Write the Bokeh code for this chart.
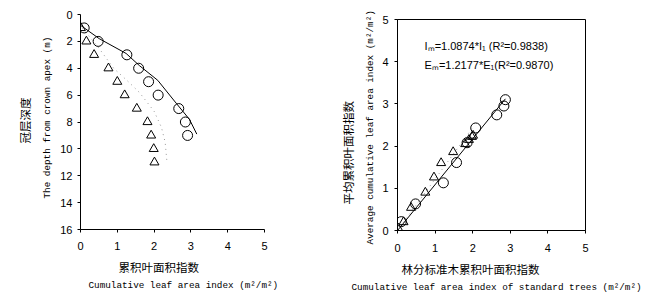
from bokeh.plotting import figure
from bokeh.layouts import row, column
from bokeh.models import Range1d, Label, FixedTicker, Title
from bokeh.embed import file_html
from bokeh.resources import INLINE

# ---- data ----
# left panel: depth from crown apex vs cumulative LAI
depth_circ = [1, 2, 3, 4, 5, 6, 7, 8, 9]
lai_circ = [0.10, 0.48, 1.26, 1.58, 1.85, 2.11, 2.67, 2.85, 2.91]
depth_tri = [1, 2, 3, 4, 5, 6, 7, 8, 9, 10, 11]
lai_tri = [0.01, 0.16, 0.37, 0.76, 1.00, 1.20, 1.53, 1.82, 1.92, 1.99, 2.01]
fit_solid_x = [0.0, 0.51, 1.24, 1.60, 2.10, 2.60, 2.96, 3.16]
fit_solid_y = [0.8, 1.8, 2.9, 3.8, 4.9, 6.6, 7.8, 8.9]
fit_dot_x = [0.05, 0.50, 0.90, 1.30, 1.60, 2.00, 2.20, 2.30, 2.35]
fit_dot_y = [1.0, 2.5, 4.0, 5.0, 5.8, 7.2, 8.4, 9.5, 11.0]

# right panel: stand average vs standard trees
std_circ = [0.10, 0.48, 1.22, 1.57, 1.85, 2.08, 2.64, 2.83, 2.87]
avg_circ = [0.21, 0.63, 1.13, 1.61, 2.08, 2.43, 2.74, 2.95, 3.10]
std_tri = [0.02, 0.16, 0.36, 0.74, 0.97, 1.16, 1.48, 1.80, 1.90, 1.98, 2.01]
avg_tri = [0.05, 0.20, 0.54, 0.90, 1.26, 1.60, 1.86, 2.05, 2.15, 2.22, 2.25]
reg_i_x = [0.0, 2.87]
reg_i_y = [0.0, 3.12]
reg_e_x = [0.0, 2.0]
reg_e_y = [0.0, 2.44]

x_ticks = [0, 1, 2, 3, 4, 5]
depth_ticks = [0, 2, 4, 6, 8, 10, 12, 14, 16]
y_ticks_right = [0, 1, 2, 3, 4, 5]

eq_i = "I\u2098=1.0874*I\u2081 (R\u00b2=0.9838)"
eq_e = "E\u2098=1.2177*E\u2081(R\u00b2=0.9870)"

TICK_FONT = "Liberation Sans"
CJK = "Noto Sans CJK SC"
MONO = "Liberation Mono"


def style_axes(p):
    for ax in (p.xaxis[0], p.yaxis[0]):
        ax.axis_line_color = "black"
        ax.major_tick_line_color = "black"
        ax.minor_tick_line_color = None
        ax.major_tick_in = 0
        ax.major_tick_out = 3
        ax.major_label_text_font = TICK_FONT
        ax.major_label_text_font_size = "11px"
        ax.major_label_text_color = "black"
    p.xgrid.visible = False
    p.ygrid.visible = False


def add_title(p, side, text, font, size, offset, standoff):
    p.add_layout(Title(text=text, align="left", text_font=font, text_font_size=size,
                       text_font_style="normal", text_color="black",
                       offset=offset, standoff=standoff), side)


# ---- left figure ----
p1 = figure(width=330, height=307, output_backend="svg", toolbar_location=None, title=None,
            x_range=Range1d(0, 5), y_range=Range1d(16, 0),
            min_border_left=80, min_border_right=66, min_border_top=14, min_border_bottom=78)
p1.outline_line_color = None
style_axes(p1)
p1.xaxis[0].ticker = FixedTicker(ticks=x_ticks)
p1.yaxis[0].ticker = FixedTicker(ticks=depth_ticks)
p1.xaxis[0].major_label_standoff = 9
p1.yaxis[0].major_label_standoff = 5

p1.line(fit_dot_x, fit_dot_y, line_color="#999999", line_width=1, line_dash="1 4")
p1.line(fit_solid_x, fit_solid_y, line_color="black", line_width=1)
p1.scatter(lai_tri, depth_tri, marker="triangle", size=9, fill_color=None, line_color="black")
p1.scatter(lai_circ, depth_circ, marker="circle", size=10, fill_color=None, line_color="black")

add_title(p1, "below", "累积叶面积指数", CJK, "11.5px", 38, 9)
add_title(p1, "below", "Cumulative leaf area index (m\u00b2/m\u00b2)", MONO, "9.3px", 8, -4)
add_title(p1, "left", "The depth from crown apex (m)", MONO, "9.3px", 31, 9)
add_title(p1, "left", "冠层深度", CJK, "11.5px", 86, 6)

# ---- right figure ----
p2 = figure(width=323, height=307, output_backend="svg", toolbar_location=None, title=None,
            x_range=Range1d(0, 5), y_range=Range1d(0, 5),
            min_border_left=67, min_border_right=68, min_border_top=19, min_border_bottom=77)
p2.outline_line_color = "black"
style_axes(p2)
p2.xaxis[0].ticker = FixedTicker(ticks=x_ticks)
p2.yaxis[0].ticker = FixedTicker(ticks=y_ticks_right)
p2.xaxis[0].major_label_standoff = 10
p2.yaxis[0].major_label_standoff = 6

p2.line(reg_e_x, reg_e_y, line_color="#999999", line_width=1, line_dash="1 4")
p2.line(reg_i_x, reg_i_y, line_color="black", line_width=1)
p2.scatter(std_tri, avg_tri, marker="triangle", size=9, fill_color=None, line_color="black")
p2.scatter(std_circ, avg_circ, marker="circle", size=10, fill_color=None, line_color="black")

p2.add_layout(Label(x=0.72, y=4.38, text=eq_i, text_font=TICK_FONT, text_font_size="11px",
                    text_align="left", text_baseline="middle", text_color="black"))
p2.add_layout(Label(x=0.72, y=3.93, text=eq_e, text_font=TICK_FONT, text_font_size="11px",
                    text_align="left", text_baseline="middle", text_color="black"))

add_title(p2, "below", "林分标准木累积叶面积指数", CJK, "11.5px", 4, 9)
add_title(p2, "below", "Cumulative leaf area index of standard trees (m\u00b2/m\u00b2)", MONO, "9.3px", -46, -3)
add_title(p2, "left", "Average cumulative leaf area index (m\u00b2/m\u00b2)", MONO, "9.3px", -14, 8)
add_title(p2, "left", "平均累积叶面积指数", CJK, "11.5px", 26, 5)

layout = row(column(p1), column(p2), spacing=0)
open("out.html", "w").write(file_html(layout, INLINE))
